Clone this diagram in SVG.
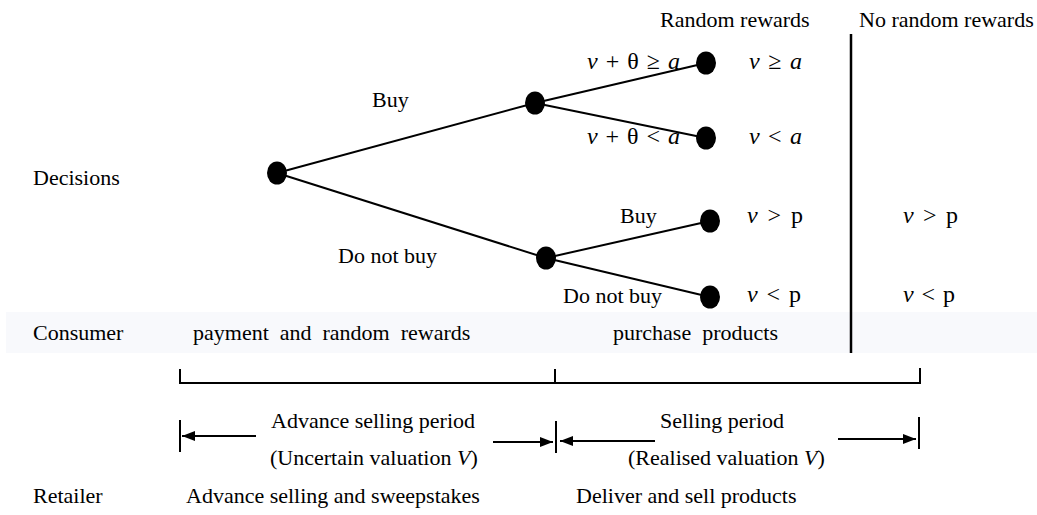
<svg xmlns="http://www.w3.org/2000/svg" width="1037" height="515" viewBox="0 0 1037 515">
<defs>
<style>
text{font-family:"Liberation Serif","Times New Roman",serif;font-size:22px;fill:#000}
.m{font-family:"Liberation Serif","DejaVu Serif",serif;font-size:24px}
.i{font-style:italic}
.ln{stroke:#000;stroke-width:2;fill:none}
.bk{stroke:#000;stroke-width:2.5;fill:none}
.nd{fill:#000}
</style>
<marker id="ah" viewBox="0 0 13 10" refX="13" refY="5" markerWidth="13" markerHeight="10" markerUnits="userSpaceOnUse" orient="auto">
<path d="M0,0 L13,5 L0,10 Z" fill="#000"/>
</marker>
</defs>
<rect x="6" y="312" width="1031" height="41" fill="#f8f9fc"/>
<g id="headers">
<text x="660" y="27">Random rewards</text>
<text x="859" y="27">No random rewards</text>
<text x="33" y="185">Decisions</text>
<text x="33" y="340">Consumer</text>
<text x="33" y="503">Retailer</text>
</g>
<g id="connectors">
<line class="ln" x1="277" y1="173" x2="535" y2="103"/>
<line class="ln" x1="277" y1="173" x2="546" y2="258"/>
<line class="ln" x1="535" y1="103" x2="706" y2="63"/>
<line class="ln" x1="535" y1="103" x2="706" y2="138"/>
<line class="ln" x1="546" y1="258" x2="710" y2="221"/>
<line class="ln" x1="546" y1="258" x2="710" y2="297"/>
</g>
<g id="edge-labels">
<text x="372" y="107">Buy</text>
<text x="338" y="263">Do not buy</text>
<text x="620" y="223">Buy</text>
<text x="563" y="303">Do not buy</text>
<text class="m" x="587" y="69" textLength="93" lengthAdjust="spacing"><tspan class="i">v</tspan> + θ ≥ <tspan class="i">a</tspan></text>
<text class="m" x="587" y="144" textLength="93" lengthAdjust="spacing"><tspan class="i">v</tspan> + θ &lt; <tspan class="i">a</tspan></text>
</g>
<g id="root"><ellipse class="nd" cx="277" cy="173" rx="10" ry="11.5"/></g>
<g id="node-buy"><ellipse class="nd" cx="535" cy="103" rx="10" ry="11.5"/></g>
<g id="node-notbuy"><ellipse class="nd" cx="546" cy="258" rx="10" ry="11.5"/></g>
<g id="leaf1"><ellipse class="nd" cx="706" cy="63" rx="10" ry="11.5"/><text class="m" x="749" y="69" textLength="53" lengthAdjust="spacing"><tspan class="i">v</tspan> ≥ <tspan class="i">a</tspan></text></g>
<g id="leaf2"><ellipse class="nd" cx="706" cy="138" rx="10" ry="11.5"/><text class="m" x="749" y="144" textLength="53" lengthAdjust="spacing"><tspan class="i">v</tspan> &lt; <tspan class="i">a</tspan></text></g>
<g id="leaf3"><ellipse class="nd" cx="710" cy="221" rx="10" ry="11.5"/><text class="m" x="747" y="223" textLength="56" lengthAdjust="spacing"><tspan class="i">v</tspan> &gt; p</text></g>
<g id="leaf4"><ellipse class="nd" cx="710" cy="297" rx="10" ry="11.5"/><text class="m" x="747" y="302" textLength="54" lengthAdjust="spacing"><tspan class="i">v</tspan> &lt; p</text></g>
<g id="no-random">
<line class="bk" x1="851" y1="34" x2="851" y2="353"/>
<text class="m" x="903" y="223" textLength="55" lengthAdjust="spacing"><tspan class="i">v</tspan> &gt; p</text>
<text class="m" x="903" y="302" textLength="52" lengthAdjust="spacing"><tspan class="i">v</tspan> &lt; p</text>
</g>
<g id="consumer-row">
<text x="193" y="340" xml:space="preserve">payment  and  random  rewards</text>
<text x="613" y="340" xml:space="preserve">purchase  products</text>
</g>
<g id="timeline">
<path class="ln" d="M180,369 V383 H920 V368 M555,369 V383"/>
<line class="ln" x1="180" y1="420" x2="180" y2="452"/>
<line class="ln" x1="556" y1="421" x2="556" y2="453"/>
<line class="ln" x1="919" y1="417" x2="919" y2="449"/>
<line class="ln" x1="256" y1="436" x2="182" y2="436" marker-end="url(#ah)"/>
<line class="ln" x1="493" y1="442" x2="553" y2="442" marker-end="url(#ah)"/>
<line class="ln" x1="655" y1="441" x2="560" y2="441" marker-end="url(#ah)"/>
<line class="ln" x1="838" y1="439" x2="916" y2="439" marker-end="url(#ah)"/>
<text x="271" y="428">Advance selling period</text>
<text x="270" y="465">(Uncertain valuation <tspan class="i">V</tspan>)</text>
<text x="660" y="428">Selling period</text>
<text x="628" y="465">(Realised valuation <tspan class="i">V</tspan>)</text>
</g>
<g id="retailer-row">
<text x="186" y="503">Advance selling and sweepstakes</text>
<text x="576" y="503">Deliver and sell products</text>
</g>
</svg>
